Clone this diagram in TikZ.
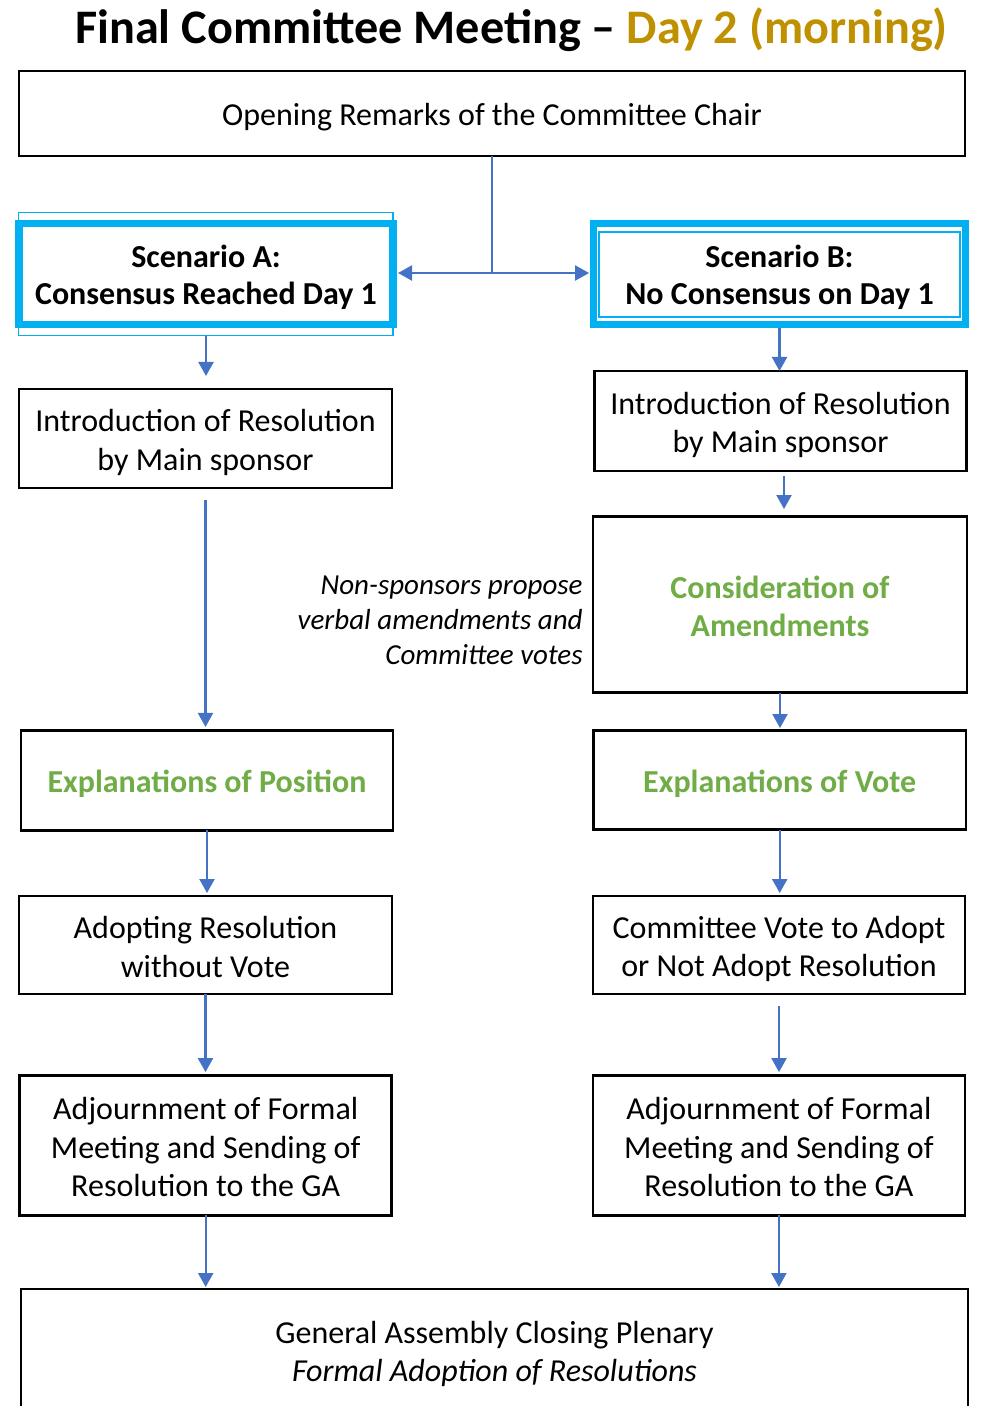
\documentclass[tikz,border=0pt]{standalone}
\usepackage{fontspec}
\setmainfont{Carlito}
\usetikzlibrary{arrows.meta,calc}
\definecolor{cyanB}{HTML}{00B0F0}
\definecolor{blueA}{HTML}{4472C4}
\definecolor{greenT}{HTML}{70AD47}
\definecolor{goldT}{HTML}{BF9000}
\newcommand{\lowr}{\rule{0pt}{15pt}}
\newcommand{\lowq}{\rule{0pt}{13pt}}
\begin{document}
\begin{tikzpicture}[x=0.5pt,y=-0.5pt,
  box/.style={draw=black,line width=1.4pt,fill=white,rectangle,inner sep=0pt,outer sep=0pt,align=center,font=\fontsize{16}{19.25}\selectfont},
  scen/.style={draw=cyanB,line width=3.6pt,rectangle,inner sep=0pt,outer sep=0pt,align=center,font=\bfseries\fontsize{16}{18.5}\selectfont},
  thinframe/.style={draw=cyanB,rectangle,inner sep=0pt,outer sep=0pt},
  greentxt/.style={text=greenT,font=\bfseries\fontsize{16}{19.25}\selectfont},
  arr/.style={draw=blueA,line width=1.1pt,-{Triangle[width=7.5pt,length=7pt]}},
  link/.style={draw=blueA,line width=1.1pt},
]
\useasboundingbox (0,0) rectangle (980,1406);

% title
\node[anchor=base,inner sep=0pt,font=\bfseries\fontsize{24.1}{28}\selectfont] (title) at (511.5,44) {Final Committee Meeting – \textcolor{goldT}{Day 2 (morning)}};

% top box
\node[box,minimum width=473pt,minimum height=42.5pt] (open) at (492,113.5) {\lowr Opening Remarks of the Committee Chair};

% scenario A
\node[thinframe,line width=0.9pt,minimum width=187.25pt,minimum height=61.5pt] (scAouter) at (205.75,274) {};
\node[scen,minimum width=187pt,minimum height=50.4pt] (scA) at (206,274) {\lowr Scenario A:\\Consensus Reached Day 1};

% scenario B
\node[scen,minimum width=186pt,minimum height=50.5pt] (scB) at (779.5,274) {\lowr Scenario B:\\No Consensus on Day 1};
\node[thinframe,line width=1pt,minimum width=180.5pt,minimum height=42.5pt] (scBinner) at (779.5,274.5) {};

% left column
\node[box,minimum width=186.5pt,minimum height=49.5pt] (introA) at (205.5,438.5) {\lowr Introduction of Resolution\\by Main sponsor};
\node[box,greentxt,minimum width=186pt,minimum height=49.75pt] (expPos) at (207,780.5) {\lowr Explanations of Position};
\node[box,minimum width=186.5pt,minimum height=49pt] (adoptA) at (205.5,945) {\lowq Adopting Resolution\\without Vote};
\node[box,minimum width=186pt,minimum height=70pt] (adjA) at (205.7,1145.3) {\lowq Adjournment of Formal\\Meeting and Sending of\\Resolution to the GA};

% right column
\node[box,minimum width=186pt,minimum height=50pt] (introB) at (780.5,421) {\lowr Introduction of Resolution\\by Main sponsor};
\node[box,greentxt,minimum width=187pt,minimum height=88pt] (consid) at (780,604.7) {\lowq Consideration of\\Amendments};
\node[anchor=east,align=right,inner sep=0pt,font=\itshape\fontsize{14.5}{17.5}\selectfont] (note) at (583,620) {Non-sponsors propose\\verbal amendments and\\Committee votes};
\node[box,greentxt,minimum width=186.25pt,minimum height=49.5pt] (expVote) at (779.7,780.3) {\lowr Explanations of Vote};
\node[box,minimum width=186pt,minimum height=49pt] (voteB) at (779,945) {\lowr Committee Vote to Adopt\\or Not Adopt Resolution};
\node[box,minimum width=186pt,minimum height=70pt] (adjB) at (778.9,1145.3) {\lowq Adjournment of Formal\\Meeting and Sending of\\Resolution to the GA};

% bottom box
\node[draw=black,line width=1.4pt,fill=white,rectangle,inner sep=0pt,outer sep=0pt,anchor=north,minimum width=473.5pt,minimum height=110pt] (ga) at (494.5,1289) {};
\node[align=center,inner sep=0pt,font=\fontsize{16}{19}\selectfont] (gatext) at (494.5,1354) {General Assembly Closing Plenary\\\textit{Formal Adoption of Resolutions}};

% connectors
\coordinate (j) at (492,273);
\draw[link] (open.south) -- (j);
\draw[arr,shorten >=2.5pt] (j) -- (j -| scA.east);
\draw[arr,shorten >=2.2pt] (j) -- (j -| scB.west);
\draw[arr,shorten <=5.8pt,shorten >=6.5pt] (scA.south) -- (scA.south |- introA.north);
\draw[arr,shorten <=1.75pt] (scB.south) -- (scB.south |- introB.north);
\draw[arr,shorten <=6pt,shorten >=1.9pt] (introA.south) -- (introA.south |- expPos.north);
\draw[arr,shorten <=2.5pt,shorten >=3.85pt] ([xshift=1.75pt]introB.south) -- ([xshift=1.75pt]introB.south |- consid.north);
\draw[arr,shorten >=1.4pt] (consid.south) -- (consid.south |- expVote.north);
\draw[arr,shorten >=1.5pt] (expPos.south) -- (expPos.south |- adoptA.north);
\draw[arr,shorten >=1.5pt] (expVote.south) -- (expVote.south |- voteB.north);
\draw[arr,shorten >=1.6pt] (adoptA.south) -- (adoptA.south |- adjA.north);
\draw[arr,shorten <=6pt,shorten >=1.6pt] (voteB.south) -- (voteB.south |- adjB.north);
\draw[arr,shorten >=1pt] (adjA.south) -- (adjA.south |- ga.north);
\draw[arr,shorten >=1pt] (adjB.south) -- (adjB.south |- ga.north);
\end{tikzpicture}
\end{document}
